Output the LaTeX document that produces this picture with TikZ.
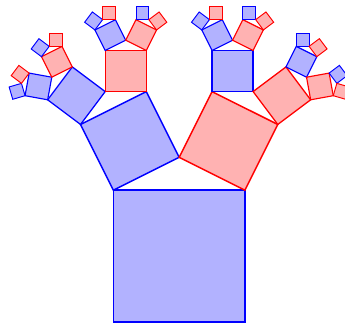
\documentclass[tikz,border=0pt]{standalone}
\tikzset{
  sq/.style={draw=#1, fill=#1!30, line join=miter}
}
\newcommand\pytree[2]{%
  \pgfmathsetmacro\pylw{0.95+0.17*\the\numexpr#1\relax}%
  \filldraw[sq=#2, line width=\pylw pt] (0,0) rectangle (1,1);
  \ifnum#1>0
    \begin{scope}[shift={(0,1)}, rotate=26.565, scale=0.559017]
      \pytree{\numexpr#1-1\relax}{blue}
    \end{scope}
    \begin{scope}[shift={(0.5,1.25)}, rotate=-26.565, scale=0.559017]
      \pytree{\numexpr#1-1\relax}{red}
    \end{scope}
  \fi}
\begin{document}
\begin{tikzpicture}[x=1pt,y=1pt]
  \useasboundingbox (0,0) rectangle (345,325);
  \begin{scope}
    \clip (0,0) rectangle (345,325);
    \begin{scope}[shift={(113.4,3.3)}, scale=131.5]
      \pytree{4}{blue}
    \end{scope}
  \end{scope}
\end{tikzpicture}
\end{document}
